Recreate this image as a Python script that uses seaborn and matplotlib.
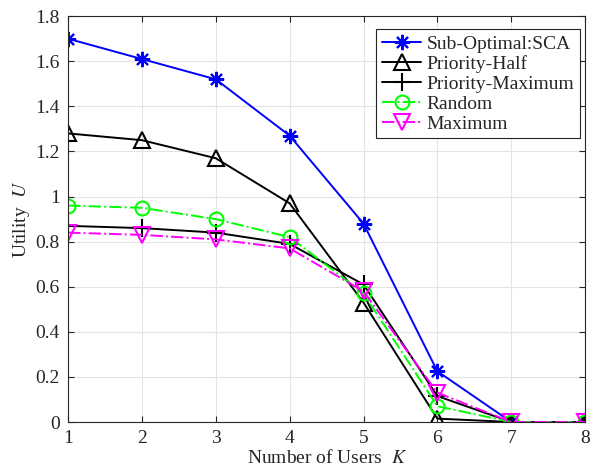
import numpy as np
import pandas as pd
import seaborn as sns
import matplotlib
matplotlib.use("Agg")
import matplotlib.pyplot as plt

# values
users = [1, 2, 3, 4, 5, 6, 7, 8]
sca = [1.70, 1.61, 1.52, 1.27, 0.88, 0.225, 0.0, 0.0]
priority_half = [1.28, 1.25, 1.17, 0.97, 0.53, 0.015, 0.0, 0.0]
priority_max = [0.87, 0.86, 0.84, 0.79, 0.61, 0.115, 0.0, 0.0]
random_sel = [0.96, 0.95, 0.90, 0.82, 0.57, 0.07, 0.0, 0.0]
maximum = [0.84, 0.83, 0.81, 0.77, 0.58, 0.13, 0.0, 0.0]

series_names = ["Sub-Optimal:SCA", "Priority-Half", "Priority-Maximum", "Random", "Maximum"]
series_vals = [sca, priority_half, priority_max, random_sel, maximum]

sns.set_style("white")
plt.rcParams['font.family'] = ['Liberation Serif', 'DejaVu Serif']
plt.rcParams['mathtext.fontset'] = 'stix'

# MATLAB-like asterisk: 4 crossing strokes
asterisk = (8, 2, 0)
styles = {
    "Sub-Optimal:SCA": dict(color="#0000ff", ls="-", marker=asterisk, ms=11),
    "Priority-Half": dict(color="black", ls="-", marker="^", ms=11),
    "Priority-Maximum": dict(color="black", ls="-", marker="+", ms=13),
    "Random": dict(color="#00ff00", ls="-.", marker="o", ms=10),
    "Maximum": dict(color="#ff00ff", ls="-.", marker="v", ms=11),
}

df = pd.DataFrame({
    "K": np.tile(users, len(series_names)),
    "U": np.concatenate(series_vals),
    "method": np.repeat(series_names, len(users)),
})

fig = plt.figure(figsize=(5.93, 4.73), dpi=100)
ax = fig.add_axes([0.1147, 0.1078, 0.872, 0.858])

for name in series_names:
    st = styles[name]
    sns.lineplot(data=df[df.method == name], x="K", y="U", ax=ax, label=name,
                 color=st["color"], linestyle=st["ls"], marker=st["marker"],
                 markersize=st["ms"], markerfacecolor="none",
                 markeredgecolor=st["color"], markeredgewidth=1.5, linewidth=1.4)

ax.set_xlim(1, 8)
ax.set_ylim(0, 1.8)
ax.set_xticks(users)
ax.set_yticks([0, 0.2, 0.4, 0.6, 0.8, 1, 1.2, 1.4, 1.6, 1.8])
ax.set_yticklabels(["0", "0.2", "0.4", "0.6", "0.8", "1", "1.2", "1.4", "1.6", "1.8"])
ax.grid(True, color="#e3e3e3", linewidth=0.8)
ax.tick_params(direction="in", length=4, labelsize=14, colors="#262626",
               top=True, right=True, bottom=True, left=True, pad=6)
for sp in ax.spines.values():
    sp.set_color("#262626")
    sp.set_linewidth(0.8)
ax.set_xlabel("Number of Users  $K$", fontsize=14, color="#262626", labelpad=1)
ax.set_ylabel("Utility  $U$", fontsize=14, color="#262626", labelpad=2)

leg = ax.legend(loc="upper right", bbox_to_anchor=(0.991, 0.968), fontsize=14,
                frameon=True, fancybox=False, edgecolor="#262626", framealpha=1,
                borderpad=0.3, labelspacing=0.12, handlelength=2.0,
                handletextpad=0.3, borderaxespad=0)
leg.get_frame().set_linewidth(0.8)

fig.savefig("out.png", dpi=100)
